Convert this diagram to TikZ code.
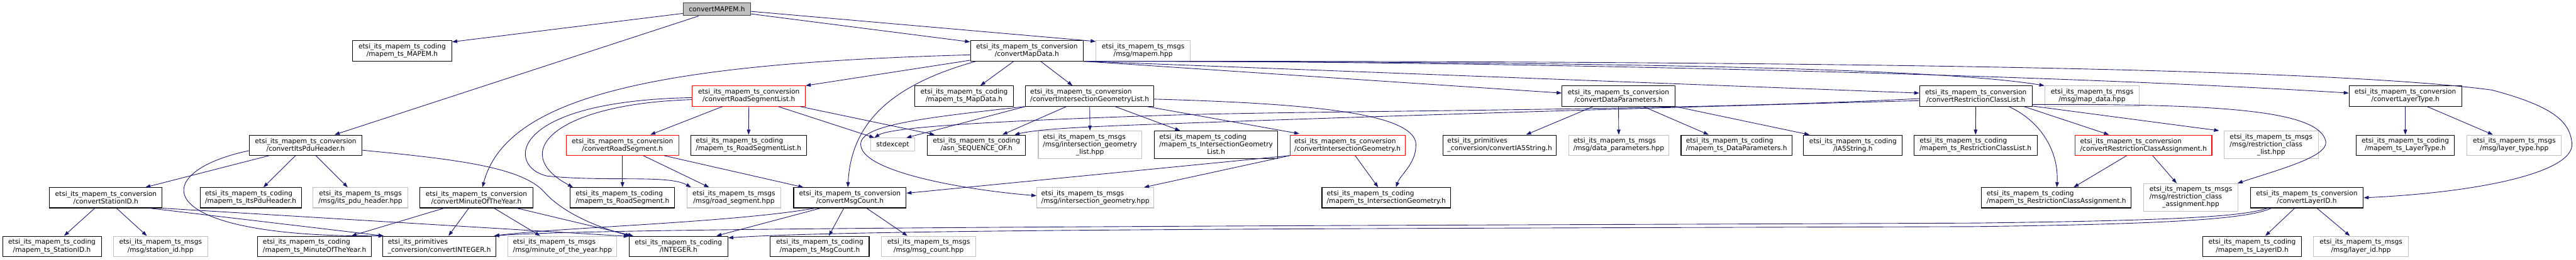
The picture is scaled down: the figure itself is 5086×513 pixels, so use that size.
\documentclass[tikz,border=0pt]{standalone}
\usepackage{fontspec}
\setmainfont{DejaVu Sans}
\usepackage{tikz}
\usetikzlibrary{arrows.meta}
\definecolor{edgeblue}{HTML}{191970}
\definecolor{sysgray}{HTML}{BFBFBF}
\definecolor{rootframe}{HTML}{404040}
\newcommand{\nodefont}{\fontsize{13.2}{15}\selectfont}
\newcommand{\hdrthree}[3]{\begin{tabular}{@{}l@{}}#1\\#2\\\multicolumn{1}{@{}c@{}}{#3}\end{tabular}}

\begin{document}
\begin{tikzpicture}[x=1pt, y=-1pt,
    hdr/.style={rectangle, draw=black, line width=1.3pt, inner xsep=5pt, inner ysep=2pt,
        minimum height=40pt, font=\nodefont, align=center},
    sys/.style={hdr, draw=sysgray},
    trunc/.style={hdr, draw=red},
    root/.style={hdr, draw=rootframe, fill=sysgray, minimum height=25pt},
    lft/.style={align=left},
    dep/.style={draw=edgeblue, line width=1.1pt, -{Triangle[length=10pt,width=7pt]}}]
    \useasboundingbox (0,0) rectangle (5086,513);
    % Root
    \node[root, minimum width=133] (mapem) at (1415.5,18.5) {convertMAPEM.h};
    % Row 1
    \node[hdr, minimum width=196] (mapemts) at (794,100.5) {etsi\_its\_mapem\_ts\_coding\\/mapem\_ts\_MAPEM.h};
    \node[hdr, minimum width=223] (mapdata) at (2027.5,100.5) {etsi\_its\_mapem\_ts\_conversion\\/convertMapData.h};
    \node[sys, minimum width=186] (mapemhpp) at (2257,100.5) {etsi\_its\_mapem\_ts\_msgs\\/msg/mapem.hpp};
    % Row 2
    \node[trunc, minimum width=223] (roadseglist) at (1478.5,190) {etsi\_its\_mapem\_ts\_conversion\\/convertRoadSegmentList.h};
    \node[hdr, minimum width=195] (mapdatah) at (1903.5,190) {etsi\_its\_mapem\_ts\_coding\\/mapem\_ts\_MapData.h};
    \node[hdr, lft, minimum width=253] (iglist) at (2151.5,190) {etsi\_its\_mapem\_ts\_conversion\\/convertIntersectionGeometryList.h};
    \node[hdr, minimum width=223] (dataparam) at (3195.5,190) {etsi\_its\_mapem\_ts\_conversion\\/convertDataParameters.h};
    \node[hdr, minimum width=222] (rclist) at (3901,190) {etsi\_its\_mapem\_ts\_conversion\\/convertRestrictionClassList.h};
    \node[sys, minimum width=187] (mapdatahpp) at (4130.5,190) {etsi\_its\_mapem\_ts\_msgs\\/msg/map\_data.hpp};
    \node[hdr, minimum width=222] (layertype) at (4749,190) {etsi\_its\_mapem\_ts\_conversion\\/convertLayerType.h};
    % Row 3
    \node[hdr, minimum width=223] (itspdu) at (603.5,287) {etsi\_its\_mapem\_ts\_conversion\\/convertItsPduHeader.h};
    \node[trunc, minimum width=222] (roadseg) at (1229,287) {etsi\_its\_mapem\_ts\_conversion\\/convertRoadSegment.h};
    \node[hdr, lft, minimum width=228] (roadseglisth) at (1478,287) {etsi\_its\_mapem\_ts\_coding\\/mapem\_ts\_RoadSegmentList.h};
    \node[sys, minimum width=87, minimum height=26] (stdexcept) at (1762.5,286) {stdexcept};
    \node[hdr, minimum width=194] (asnseq) at (1928,287) {etsi\_its\_mapem\_ts\_coding\\/asn\_SEQUENCE\_OF.h};
    \node[sys, minimum width=204, minimum height=55] (iglisthpp) at (2152,286.5) {\hdrthree{etsi\_its\_mapem\_ts\_msgs}{/msg/intersection\_geometry}{\_list.hpp}};
    \node[hdr, minimum width=244, minimum height=55] (iglisth) at (2401,286.5) {\hdrthree{etsi\_its\_mapem\_ts\_coding}{/mapem\_ts\_IntersectionGeometry}{List.h}};
    \node[trunc, lft, minimum width=227] (ig) at (2660.5,287) {etsi\_its\_mapem\_ts\_conversion\\/convertIntersectionGeometry.h};
    \node[hdr, lft, minimum width=224] (ia5conv) at (2961,287) {etsi\_its\_primitives\\\_conversion/convertIA5String.h};
    \node[sys, lft, minimum width=198] (dataparamhpp) at (3196,287) {etsi\_its\_mapem\_ts\_msgs\\/msg/data\_parameters.hpp};
    \node[hdr, lft, minimum width=219] (dataparamh) at (3428.5,287) {etsi\_its\_mapem\_ts\_coding\\/mapem\_ts\_DataParameters.h};
    \node[hdr, minimum width=195] (ia5h) at (3658.5,287) {etsi\_its\_mapem\_ts\_coding\\/IA5String.h};
    \node[hdr, lft, minimum width=243] (rclisth) at (3900.5,287) {etsi\_its\_mapem\_ts\_coding\\/mapem\_ts\_RestrictionClassList.h};
    \node[trunc, lft, minimum width=270] (rca) at (4232,287) {etsi\_its\_mapem\_ts\_conversion\\/convertRestrictionClassAssignment.h};
    \node[sys, minimum width=186, minimum height=55] (rclisthpp) at (4484,286.5) {\hdrthree{etsi\_its\_mapem\_ts\_msgs}{/msg/restriction\_class}{\_list.hpp}};
    \node[hdr, minimum width=194] (layertypeh) at (4749,287) {etsi\_its\_mapem\_ts\_coding\\/mapem\_ts\_LayerType.h};
    \node[sys, minimum width=186] (layertypehpp) at (4964,287) {etsi\_its\_mapem\_ts\_msgs\\/msg/layer\_type.hpp};
    % Row 4
    \node[hdr, minimum width=222] (stationid) at (209,391) {etsi\_its\_mapem\_ts\_conversion\\/convertStationID.h};
    \node[hdr, lft, minimum width=200] (itspduh) at (495,391) {etsi\_its\_mapem\_ts\_coding\\/mapem\_ts\_ItsPduHeader.h};
    \node[sys, minimum width=187] (itspduhpp) at (711.5,391) {etsi\_its\_mapem\_ts\_msgs\\/msg/its\_pdu\_header.hpp};
    \node[hdr, minimum width=223] (moy) at (940.5,391) {etsi\_its\_mapem\_ts\_conversion\\/convertMinuteOfTheYear.h};
    \node[hdr, lft, minimum width=206] (roadsegh) at (1229,391) {etsi\_its\_mapem\_ts\_coding\\/mapem\_ts\_RoadSegment.h};
    \node[sys, minimum width=186] (roadseghpp) at (1449,391) {etsi\_its\_mapem\_ts\_msgs\\/msg/road\_segment.hpp};
    \node[hdr, minimum width=222] (msgcount) at (1678,391) {etsi\_its\_mapem\_ts\_conversion\\/convertMsgCount.h};
    \node[sys, lft, minimum width=231] (ighpp) at (2162.5,391) {etsi\_its\_mapem\_ts\_msgs\\/msg/intersection\_geometry.hpp};
    \node[hdr, lft, minimum width=254] (igh) at (2737,391) {etsi\_its\_mapem\_ts\_coding\\/mapem\_ts\_IntersectionGeometry.h};
    \node[hdr, lft, minimum width=296] (rcah) at (4060,391) {etsi\_its\_mapem\_ts\_coding\\/mapem\_ts\_RestrictionClassAssignment.h};
    \node[sys, minimum width=187, minimum height=55] (rcahpp) at (4325.5,390.5) {\hdrthree{etsi\_its\_mapem\_ts\_msgs}{/msg/restriction\_class}{\_assignment.hpp}};
    \node[hdr, minimum width=223] (layerid) at (4554.5,391) {etsi\_its\_mapem\_ts\_conversion\\/convertLayerID.h};
    % Row 5
    \node[hdr, minimum width=195] (stationidh) at (102.5,487) {etsi\_its\_mapem\_ts\_coding\\/mapem\_ts\_StationID.h};
    \node[sys, minimum width=186] (stationidhpp) at (317,487) {etsi\_its\_mapem\_ts\_msgs\\/msg/station\_id.hpp};
    \node[hdr, lft, minimum width=224] (moyh) at (621,487) {etsi\_its\_mapem\_ts\_coding\\/mapem\_ts\_MinuteOfTheYear.h};
    \node[hdr, lft, minimum width=223] (intconv) at (867.5,487) {etsi\_its\_primitives\\\_conversion/convertINTEGER.h};
    \node[sys, lft, minimum width=215] (moyhpp) at (1110.5,487) {etsi\_its\_mapem\_ts\_msgs\\/msg/minute\_of\_the\_year.hpp};
    \node[hdr, minimum width=195] (integerh) at (1339.5,487) {etsi\_its\_mapem\_ts\_coding\\/INTEGER.h};
    \node[hdr, minimum width=195] (msgcounth) at (1618.5,487) {etsi\_its\_mapem\_ts\_coding\\/mapem\_ts\_MsgCount.h};
    \node[sys, minimum width=187] (msgcounthpp) at (1833.5,487) {etsi\_its\_mapem\_ts\_msgs\\/msg/msg\_count.hpp};
    \node[hdr, minimum width=195] (layeridh) at (4446.5,487) {etsi\_its\_mapem\_ts\_coding\\/mapem\_ts\_LayerID.h};
    \node[sys, minimum width=187] (layeridhpp) at (4661.5,487) {etsi\_its\_mapem\_ts\_msgs\\/msg/layer\_id.hpp};

    % convertMAPEM.h
    \draw[dep] ([yshift=-8pt]mapem.west) -- ([yshift=-3pt]mapemts.north east);
    \draw[dep] ([xshift=-36pt]mapem.south) -- ([xshift=57pt]itspdu.north);
    \draw[dep] ([yshift=-9pt]mapem.east) -- ([yshift=-3pt]mapdata.north west);
    \draw[dep] ([yshift=-4pt]mapem.east) -- ([yshift=-2pt]mapemhpp.north west);
    % convertItsPduHeader.h
    \draw[dep] ([xshift=-72pt]itspdu.south) -- ([xshift=78pt]stationid.north);
    \draw[dep] ([xshift=-20pt]itspdu.south) -- ([xshift=25pt]itspduh.north);
    \draw[dep] ([xshift=20pt]itspdu.south) -- ([xshift=-25pt]itspduhpp.north);
    \draw[dep] ([yshift=-11pt]itspdu.west) .. controls (290,340) and (290,470) .. ([xshift=2pt]intconv.north west);
    \draw[dep] ([yshift=-10pt]itspdu.east) .. controls (900,315) and (1030,330) .. (1075,380)
        .. controls (1110,420) and (1180,450) .. ([xshift=4pt]integerh.north west);
    % convertStationID.h
    \draw[dep] ([xshift=-22pt]stationid.south) -- ([xshift=24pt]stationidh.north);
    \draw[dep] ([xshift=21pt]stationid.south) -- ([xshift=-27pt]stationidhpp.north);
    \draw[dep] ([xshift=86pt]stationid.south) -- ([xshift=2pt]intconv.north west);
    \draw[dep] (stationid.south east) -- ([yshift=-1pt]integerh.north west);
    % convertMapData.h
    \draw[dep] ([xshift=-26pt]mapdata.south) -- ([xshift=32pt]mapdatah.north);
    \draw[dep] ([xshift=27pt]mapdata.south) -- ([xshift=-34pt]iglist.north);
    \draw[dep] ([yshift=2pt]mapdata.south west) -- (roadseglist.north east);
    \draw[dep] ([yshift=-8pt]mapdata.west) .. controls (1300,125) and (1000,190) .. ([xshift=12pt]moy.north);
    \draw[dep] ([xshift=12pt]mapdata.south west) .. controls (1750,170) and (1680,250) .. ([xshift=-4pt]msgcount.north);
    \draw[dep] (mapdata.south east) -- ([yshift=6pt]dataparam.west);
    \draw[dep] (mapdata.south east) -- ([yshift=6pt]rclist.west);
    \draw[dep] (mapdata.south east) .. controls (3000,122) and (3800,130) .. (mapdatahpp.north west);
    \draw[dep] (mapdata.south east) .. controls (3000,120) and (4100,150) .. ([yshift=6pt]layertype.west);
    \draw[dep] (mapdata.south east) .. controls (3600,120) and (4600,135) .. (4920,178)
        .. controls (5040,210) and (5075,240) .. (5078,285)
        .. controls (5080,340) and (4900,380) .. (layerid.east);
    % convertRoadSegmentList.h
    \draw[dep] ([xshift=-52pt]roadseglist.south) -- ([xshift=55pt]roadseg.north);
    \draw[dep] (roadseglist.south) -- (roadseglisth.north);
    \draw[dep] ([xshift=58pt]roadseglist.south) -- ([xshift=8pt]stdexcept.north west);
    \draw[dep] ([xshift=-11pt]roadseglist.south east) -- ([xshift=15pt]asnseq.north west);
    \draw[dep] ([yshift=-7pt]roadseglist.west) .. controls (1100,205) and (1000,300) .. ([xshift=6pt]roadsegh.north west);
    \draw[dep] ([yshift=-3pt]roadseglist.west) .. controls (1000,200) and (1000,330) .. (1080,348)
        .. controls (1200,360) and (1320,345) .. ([xshift=9pt]roadseghpp.north west);
    % convertRoadSegment.h
    \draw[dep] (roadseg.south) -- (roadsegh.north);
    \draw[dep] ([xshift=41pt]roadseg.south) -- ([xshift=-49pt]roadseghpp.north);
    \draw[dep] ([xshift=82pt]roadseg.south) -- ([xshift=20pt]msgcount.north west);
    % convertMinuteOfTheYear.h
    \draw[dep] ([xshift=-64pt]moy.south) -- ([xshift=73pt]moyh.north);
    \draw[dep] ([xshift=-15pt]moy.south) -- ([xshift=18pt]intconv.north);
    \draw[dep] ([xshift=35pt]moy.south) -- ([xshift=-44pt]moyhpp.north);
    \draw[dep] ([xshift=80pt]moy.south) -- ([xshift=9pt]integerh.north west);
    % convertMsgCount.h
    \draw[dep] ([xshift=-69pt]msgcount.south) .. controls (1450,440) and (1100,450) .. ([xshift=-4pt]intconv.north east);
    \draw[dep] ([xshift=-58pt]msgcount.south) -- ([xshift=75pt]integerh.north);
    \draw[dep] ([xshift=-12pt]msgcount.south) -- ([xshift=18pt]msgcounth.north);
    \draw[dep] ([xshift=33pt]msgcount.south) -- ([xshift=-42pt]msgcounthpp.north);
    % convertIntersectionGeometryList.h
    \draw[dep] (iglist.south west) -- ([xshift=27pt]stdexcept.north);
    \draw[dep] ([xshift=-46pt]iglist.south) -- ([xshift=51pt]asnseq.north);
    \draw[dep] (iglist.south) -- (iglisthpp.north);
    \draw[dep] ([xshift=50pt]iglist.south) -- ([xshift=-71pt]iglisth.north);
    \draw[dep] ([xshift=113pt]iglist.south) -- ([xshift=19pt,yshift=2pt]ig.north west);
    \draw[dep] ([yshift=-6pt]iglist.east) .. controls (2600,205) and (2780,225) .. (2795,280)
        .. controls (2800,320) and (2765,345) .. ([xshift=19pt]igh.north);
    \draw[dep] (iglist.south west) .. controls (1800,235) and (1690,250) .. (1700,290)
        .. controls (1710,340) and (1900,375) .. ([yshift=4pt]ighpp.west);
    % convertIntersectionGeometry.h
    \draw[dep] ([xshift=15pt]ig.south) -- ([xshift=-16pt]igh.north);
    \draw[dep] (ig.south west) -- ([xshift=-20pt]ighpp.north east);
    \draw[dep] (ig.south west) -- ([yshift=9pt]msgcount.east);
    % convertDataParameters.h
    \draw[dep] ([xshift=-50pt]dataparam.south) -- ([xshift=52pt]ia5conv.north);
    \draw[dep] (dataparam.south) -- (dataparamhpp.north);
    \draw[dep] ([xshift=49pt]dataparam.south) -- ([xshift=-55pt]dataparamh.north);
    \draw[dep] (dataparam.south east) -- ([xshift=-86pt]ia5h.north);
    % convertRestrictionClassList.h
    \draw[dep] (rclist.south) -- (rclisth.north);
    \draw[dep] ([xshift=95pt]rclist.south) -- ([xshift=-68pt]rca.north);
    \draw[dep] ([xshift=65pt]rclist.south) .. controls (4030,240) and (4065,300) .. ([xshift=1pt]rcah.north);
    \draw[dep] ([yshift=1pt]rclist.south east) -- ([xshift=-9pt]rclisthpp.north west);
    \draw[dep] ([yshift=4pt]rclist.south east) .. controls (4400,205) and (4580,220) .. (4592,280)
        .. controls (4596,310) and (4500,335) .. ([xshift=-2pt]rcahpp.north east);
    \draw[dep] ([yshift=-5pt]rclist.west) .. controls (3300,220) and (2600,218) .. (2300,228)
        .. controls (2000,238) and (1760,250) .. ([xshift=8pt]stdexcept.north west);
    \draw[dep] ([yshift=-9pt]rclist.west) .. controls (3300,212) and (2700,230) .. (2300,245)
        .. controls (2150,250) and (2050,255) .. ([xshift=75pt]asnseq.north);
    % convertRestrictionClassAssignment.h
    \draw[dep] ([xshift=-33pt]rca.south) -- ([xshift=34pt]rcah.north);
    \draw[dep] ([xshift=18pt]rca.south) -- ([xshift=-28pt]rcahpp.north);
    % convertLayerType.h
    \draw[dep] (layertype.south) -- (layertypeh.north);
    \draw[dep] ([xshift=43pt]layertype.south) -- ([xshift=-42pt]layertypehpp.north);
    % convertLayerID.h
    \draw[dep] ([xshift=-24pt]layerid.south) -- ([xshift=26pt]layeridh.north);
    \draw[dep] ([xshift=20pt]layerid.south) -- ([xshift=-22pt]layeridhpp.north);
    \draw[dep] ([xshift=-78pt]layerid.south) .. controls (4430,428) and (4300,436) .. (3900,441)
        .. controls (2800,446) and (1200,448) .. ([xshift=-4pt]intconv.north east);
    \draw[dep] ([xshift=-70pt]layerid.south) .. controls (4440,432) and (4300,443) .. (3900,448)
        .. controls (2800,452) and (1700,452) .. ([yshift=-4pt]integerh.north east);
\end{tikzpicture}
\end{document}
